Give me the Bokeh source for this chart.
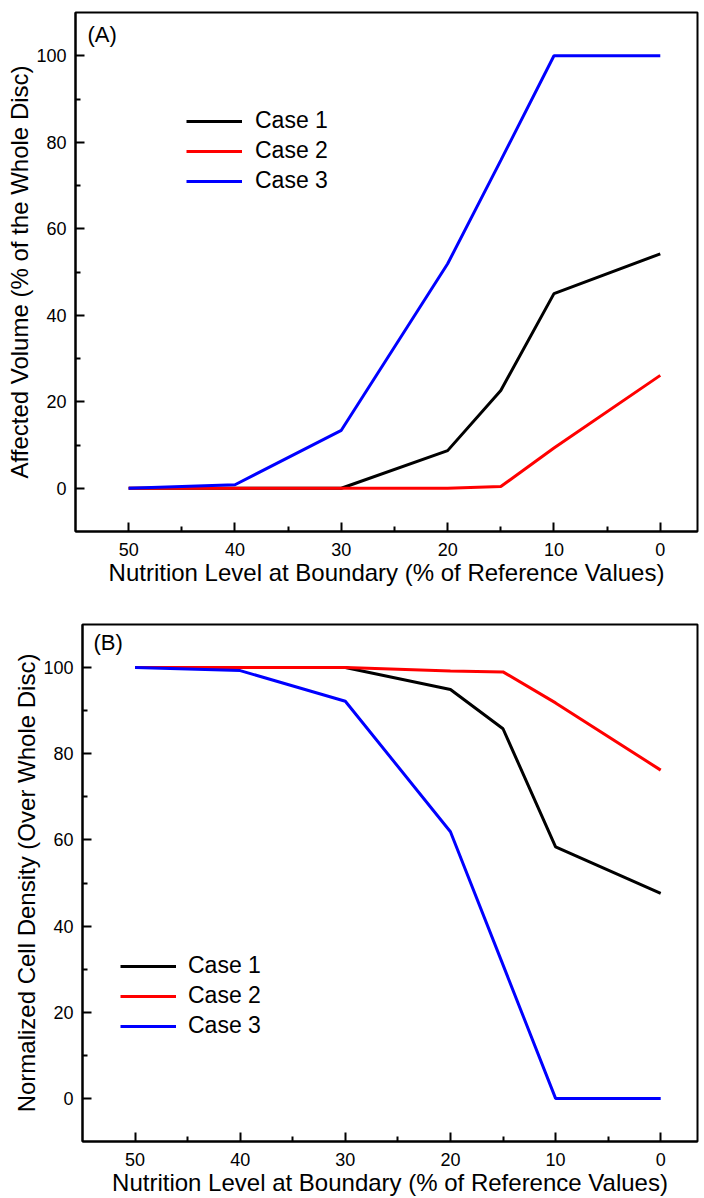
from bokeh.plotting import figure
from bokeh.models import Range1d, Legend, LegendItem, Label, FixedTicker
from bokeh.layouts import column, row
from bokeh.embed import file_html
from bokeh.resources import INLINE

# ---- data ----
nutrition = [50, 40, 30, 20, 15, 10, 0]
case_names = ["Case 1", "Case 2", "Case 3"]
case_colors = ["#000000", "#ff0000", "#0000ff"]

vol_case1 = [0, 0, 0, 8.7, 22.6, 45.0, 54.2]
vol_case2 = [0, 0, 0, 0, 0.4, 9.3, 26.1]
vol_case3 = [0, 0.8, 13.4, 51.9, 75.8, 100, 100]

dens_case1 = [100, 100, 100, 94.9, 85.8, 58.4, 47.6]
dens_case2 = [100, 100, 100, 99.2, 99.0, 91.8, 76.2]
dens_case3 = [100, 99.3, 92.2, 61.9, 31.0, 0, 0]

x_major = [0, 10, 20, 30, 40, 50]
x_minor = [5, 15, 25, 35, 45]
y_major = [0, 20, 40, 60, 80, 100]
y_minor = [10, 30, 50, 70, 90]

x_label = "Nutrition Level at Boundary (% of Reference Values)"
y_label_a = "Affected Volume (% of the Whole Disc)"
y_label_b = "Normalized Cell Density (Over Whole Disc)"

FONT = "Liberation Sans"


def make_panel(series, ylab, tag, height, border, legend_loc, legend_standoff, tag_pos):
    p = figure(width=704, height=height, output_backend="svg", toolbar_location=None,
               x_range=Range1d(55, -3.5), y_range=Range1d(-10, 110),
               min_border_left=border[0], min_border_right=border[1],
               min_border_top=border[2], min_border_bottom=border[3])
    p.background_fill_color = "white"
    p.border_fill_color = "white"
    p.grid.visible = False
    p.outline_line_color = "black"
    p.outline_line_width = 2
    p.outline_line_alpha = 1

    items = []
    for name, color, ys in zip(case_names, case_colors, series):
        r = p.line(nutrition, ys, line_color=color, line_width=3)
        items.append(LegendItem(label=name, renderers=[r]))

    for ax in (p.xaxis[0], p.yaxis[0]):
        ax.axis_line_width = 2
        ax.axis_line_color = "black"
        ax.major_tick_in = 9
        ax.major_tick_out = 0
        ax.minor_tick_in = 5
        ax.minor_tick_out = 0
        ax.major_tick_line_width = 2
        ax.minor_tick_line_width = 2
        ax.major_label_text_font = FONT
        ax.major_label_text_font_size = "18px"
        ax.major_label_text_color = "black"
        ax.axis_label_text_font = FONT
        ax.axis_label_text_font_size = "24px"
        ax.axis_label_text_font_style = "normal"
        ax.axis_label_text_color = "black"

    p.xaxis.ticker = FixedTicker(ticks=x_major, minor_ticks=x_minor)
    p.yaxis.ticker = FixedTicker(ticks=y_major, minor_ticks=y_minor)
    p.xaxis.axis_label = x_label
    p.yaxis.axis_label = ylab
    p.xaxis.major_label_standoff = 11
    p.xaxis.axis_label_standoff = 0
    p.yaxis.major_label_standoff = 9
    p.yaxis.axis_label_standoff = 0

    legend = Legend(items=items, location=legend_loc, padding=0, margin=0,
                    spacing=3, glyph_width=56, glyph_height=20, label_height=20,
                    label_standoff=legend_standoff, label_text_font=FONT,
                    label_text_font_size="23px", label_text_color="black",
                    border_line_alpha=0, background_fill_alpha=0)
    p.add_layout(legend)

    p.add_layout(Label(x=tag_pos[0], y=tag_pos[1], x_units="screen", y_units="screen",
                       text=tag, text_font=FONT, text_font_size="22px",
                       text_baseline="middle", text_color="black"))
    return p


pa = make_panel([vol_case1, vol_case2, vol_case3], y_label_a, "(A)", 595,
                (75, 7, 12, 64), (111, 337), 13, (12, 497))
pb = make_panel([dens_case1, dens_case2, dens_case3], y_label_b, "(B)", 603,
                (82, 7, 29, 55), (38, 102), 12, (11, 499))

layout = column(row(pa), row(pb))
open("out.html", "w").write(file_html(layout, INLINE))
